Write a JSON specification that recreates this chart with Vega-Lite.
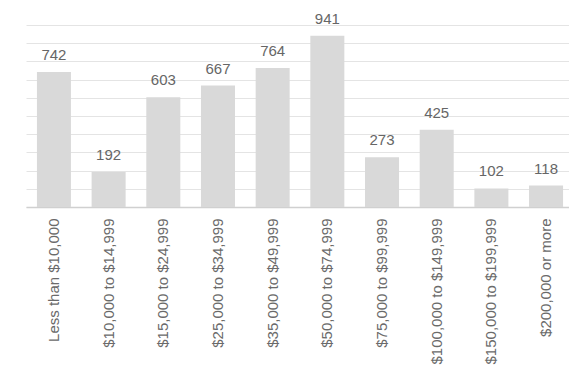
{
  "$schema": "https://vega.github.io/schema/vega-lite/v6.json",
  "autosize": {"type": "none"},
  "padding": {"left": 26, "top": 25, "right": 0, "bottom": 168},
  "width": 548,
  "height": 182,
  "background": "white",
  "data": {
    "values": [
      {"income": "Less than $10,000", "count": 742},
      {"income": "$10,000 to $14,999", "count": 192},
      {"income": "$15,000 to $24,999", "count": 603},
      {"income": "$25,000 to $34,999", "count": 667},
      {"income": "$35,000 to $49,999", "count": 764},
      {"income": "$50,000 to $74,999", "count": 941},
      {"income": "$75,000 to $99,999", "count": 273},
      {"income": "$100,000 to $149,999", "count": 425},
      {"income": "$150,000 to $199,999", "count": 102},
      {"income": "$200,000 or more", "count": 118}
    ]
  },
  "encoding": {
    "x": {
      "field": "income", "type": "nominal", "sort": null,
      "scale": {"paddingInner": 0.378, "paddingOuter": 0.2},
      "axis": {
        "title": null, "labelAngle": -90, "ticks": false, "labelPadding": 11,
        "labelFont": "Liberation Sans", "labelFontSize": 15, "labelColor": "#6a6a6a",
        "domainColor": "#d0d0d0", "domainWidth": 1.5, "labelLimit": 300
      }
    },
    "y": {
      "field": "count", "type": "quantitative",
      "scale": {"domain": [0, 1000], "nice": false},
      "axis": {
        "title": null, "labels": false, "ticks": false, "domain": false,
        "values": [0,100,200,300,400,500,600,700,800,900,1000],
        "gridColor": "#e4e4e4", "gridWidth": 1
      }
    }
  },
  "layer": [
    {"mark": {"type": "bar", "color": "#d9d9d9"}},
    {
      "mark": {"type": "text", "baseline": "alphabetic", "dy": -12, "font": "Liberation Sans", "fontSize": 15, "color": "#666666"},
      "encoding": {"text": {"field": "count", "type": "quantitative"}}
    }
  ],
  "config": {"view": {"stroke": null}}
}
